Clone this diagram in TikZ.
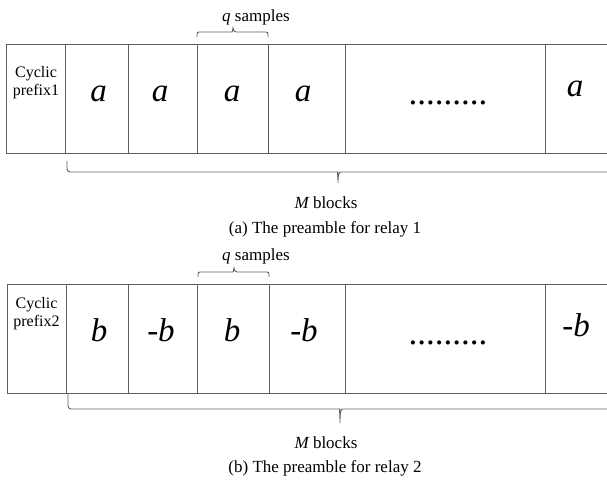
\documentclass[tikz,border=0pt]{standalone}
\usepackage{fontspec}
\setmainfont{Liberation Serif}
\definecolor{linegray}{RGB}{95,95,95}
\begin{document}
\begin{tikzpicture}[x=1pt,y=-1pt,
  cell/.style={draw=linegray, line width=0.9pt, inner sep=0pt, outer sep=0pt, minimum height=109pt},
  big/.style={font=\fontsize{33}{33}\selectfont\itshape, inner sep=0pt, anchor=base},
  dots/.style={font=\fontsize{35}{35}\selectfont, inner sep=0pt, anchor=base},
  lab/.style={font=\fontsize{17}{17}\selectfont, inner sep=0pt, anchor=base},
  cp/.style={font=\fontsize{16}{17.5}\selectfont, align=center, inner sep=0pt, anchor=base},
  brace/.style={draw=linegray, line width=0.9pt}]
\useasboundingbox (0,0) rectangle (607,482);
\clip (0,0) rectangle (607,482);
% ---------- panel (a) ----------
\node[cell, minimum width=59pt]  (a0) at (35.5,98.5) {};
\node[cell, minimum width=63pt]  (a1) at (96.5,98.5) {};
\node[cell, minimum width=69pt]  (a2) at (162.5,98.5) {};
\node[cell, minimum width=71pt]  (a3) at (232.5,98.5) {};
\node[cell, minimum width=77pt]  (a4) at (306.5,98.5) {};
\node[cell, minimum width=200pt] (a5) at (445,98.5) {};
\node[cell, minimum width=80pt]  (a6) at (585,98.5) {};
\node[cp] (acp) at (36,95) {Cyclic\\prefix1};
\node[big] (ta1) at (98.5,101.5) {a};
\node[big] (ta2) at (160,101.5) {a};
\node[big] (ta3) at (232,101.5) {a};
\node[big] (ta4) at (303,101.5) {a};
\node[dots] (ta5) at (448,104) {.........};
\node[big] (ta6) at (575,96.5) {a};
\draw[brace] (197,37) [rounded corners=2pt]-- (197,32) -- (230,32) [sharp corners] .. controls (232,32) and (233,30) .. (233,28) .. controls (233,30) and (234,32) .. (236,32) [rounded corners=2pt] -- (268,32) -- (268,37);
\node[lab] (qa) at (256,21) {\itshape q\upshape\ samples};
\draw[brace] (67,161) [rounded corners=3pt]-- (67,172) -- (335,172) [sharp corners] .. controls (337,172) and (338,174) .. (338,183) .. controls (338,174) and (339,172) .. (341,172) -- (625,172);
\node[lab] (ma) at (326,208) {\itshape M\upshape\ blocks};
\node[lab] (capa) at (325,233) {(a) The preamble for relay 1};
% ---------- panel (b) ----------
\node[cell, minimum width=59pt]  (b0) at (36.5,338.5) {};
\node[cell, minimum width=62pt]  (b1) at (97,338.5) {};
\node[cell, minimum width=69.5pt] (b2) at (162.75,338.5) {};
\node[cell, minimum width=71.5pt] (b3) at (233.25,338.5) {};
\node[cell, minimum width=76.5pt] (b4) at (307.25,338.5) {};
\node[cell, minimum width=200pt] (b5) at (445.5,338.5) {};
\node[cell, minimum width=80pt]  (b6) at (585.5,338.5) {};
\node[cp] (bcp) at (36.5,326) {Cyclic\\prefix2};
\node[big] (tb1) at (99,341.5) {b};
\node[big] (tb2) at (161,341.5) {-b};
\node[big] (tb3) at (232,341.5) {b};
\node[big] (tb4) at (304,341.5) {-b};
\node[dots] (tb5) at (448,344) {.........};
\node[big] (tb6) at (576,336.5) {-b};
\draw[brace] (198,277) [rounded corners=2pt]-- (198,272) -- (231,272) [sharp corners] .. controls (233,272) and (234,270) .. (234,268) .. controls (234,270) and (235,272) .. (237,272) [rounded corners=2pt] -- (269,272) -- (269,277);
\node[lab] (qb) at (256,260) {\itshape q\upshape\ samples};
\draw[brace] (68,394) [rounded corners=3pt]-- (68,409) -- (337,409) [sharp corners] .. controls (339,409) and (340,411) .. (340,423) .. controls (340,411) and (341,409) .. (343,409) -- (625,409);
\node[lab] (mb) at (326,448) {\itshape M\upshape\ blocks};
\node[lab] (capb) at (325,472) {(b) The preamble for relay 2};
\end{tikzpicture}
\end{document}
